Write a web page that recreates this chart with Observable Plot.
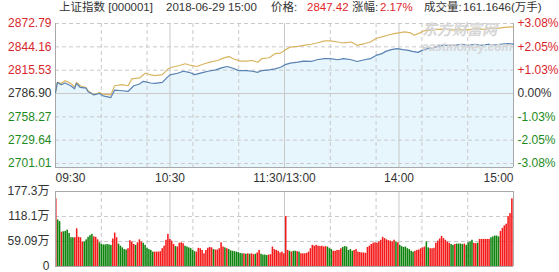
<!DOCTYPE html>
<html><head><meta charset="utf-8">
<script src="https://cdn.jsdelivr.net/npm/d3@7"></script>
<script src="https://cdn.jsdelivr.net/npm/@observablehq/plot@0.6"></script>
<style>
body{margin:0;background:#fff;}
#wrap{position:relative;width:559px;height:272px;overflow:hidden;font-family:"Liberation Sans",Arial,"Noto Sans CJK SC",sans-serif;}
#wrap svg{position:absolute;left:0;top:0;}
.t{position:absolute;top:0;font-size:11.5px;line-height:14px;color:#333;white-space:nowrap;}
.r{color:#e0262b;}
.wm{position:absolute;color:#d6d6d6;font-weight:bold;font-style:italic;white-space:nowrap;line-height:1;}
</style></head><body><div id="wrap"></div>
<script>
// ---- data ----
const prevClose = 2786.90;
const priceTicks = [2701.01, 2729.64, 2758.27, 2786.90, 2815.53, 2844.16, 2872.79];
const pctLabels = ["-3.08%", "-2.05%", "-1.03%", "0.00%", "+1.03%", "+2.05%", "+3.08%"];
const timeTicks = [0, 60, 120, 180, 240];
const timeLabels = ["09:30", "10:30", "11:30/13:00", "14:00", "15:00"];
const volTicks = [0, 59.09, 118.1, 177.3];
const volLabels = ["0", "59.09万", "118.1万", "177.3万"];

const blueMin = [0,1,3,5,8,10,11,13,16,17,20,23,25,29,31,35,38,41,44,46,50,52,56,58,60,64,67,70,73,77,80,84,87,90,93,96,100,103,106,108,112,115,118,120,123,127,130,134,137,141,144,148,151,155,158,162,165,168,171,173,176,179,182,185,187,190,192,195,199,202,206,209,213,216,220,223,227,230,233,237,240];
const blueVal = [2788.1,2800.5,2797.7,2799.8,2796.4,2792.7,2799.3,2794.3,2793.6,2789.4,2785.3,2786.9,2784.0,2781.9,2791.1,2790.3,2789.4,2796.4,2798.6,2801.8,2799.8,2799.3,2800.5,2805.5,2809.7,2811.7,2814.2,2812.9,2810.1,2812.6,2814.2,2815.9,2818.4,2820.0,2817.9,2815.0,2815.0,2814.2,2812.9,2815.0,2815.9,2817.2,2819.1,2822.0,2824.1,2825.3,2826.6,2826.2,2828.3,2829.6,2829.6,2828.3,2829.6,2828.3,2826.2,2828.3,2829.6,2833.6,2835.8,2838.6,2840.7,2842.0,2840.7,2839.8,2838.6,2837.4,2839.8,2842.0,2843.9,2846.0,2846.0,2846.0,2847.3,2846.0,2847.3,2846.0,2847.3,2846.4,2847.3,2848.2,2847.42];

const avgMin = [0,1,3,5,8,10,11,13,16,17,20,23,25,29,31,35,38,40,44,47,50,52,56,59,61,65,68,71,74,78,81,85,88,91,93,97,100,103,106,108,112,115,118,120,123,127,130,134,137,141,144,148,151,155,158,162,165,168,171,174,178,180,183,186,188,191,193,197,200,204,207,211,214,218,221,225,228,232,235,240];
const avgVal = [2788.1,2800.5,2799.3,2802.6,2799.3,2795.2,2800.5,2796.4,2794.3,2790.2,2785.3,2788.1,2786.2,2785.3,2796.4,2797.7,2796.4,2804.8,2806.0,2811.7,2809.7,2808.8,2810.1,2817.2,2819.1,2821.3,2823.4,2821.3,2820.0,2823.4,2825.3,2827.4,2830.3,2832.4,2829.6,2826.6,2826.6,2827.4,2825.3,2829.6,2830.8,2835.8,2836.5,2839.8,2843.9,2844.8,2846.0,2847.3,2848.9,2851.4,2851.4,2850.1,2848.9,2850.1,2846.0,2848.2,2850.1,2854.4,2856.3,2858.4,2860.6,2861.3,2862.5,2861.3,2858.4,2861.3,2863.8,2864.6,2865.5,2865.9,2864.6,2865.5,2864.6,2865.5,2866.3,2865.5,2866.8,2866.8,2868.0,2868.7];

// volume per minute (万手), 241 bars
const volume = [
160,110,106,81,82,83,86,78,68,68,
68,89,69,68,58,58,63,69,73,76,
70,69,63,56,52,51,51,52,51,50,
65,79,68,53,48,44,40,39,42,61,
58,52,50,56,63,58,55,50,43,40,
38,34,34,34,34,35,42,48,62,76,
64,60,52,47,46,55,56,54,48,46,
44,42,38,35,34,43,42,38,30,38,
43,45,44,40,39,39,42,56,46,44,
42,40,37,36,35,34,33,31,30,30,
29,30,29,30,28,29,32,38,29,27,
27,26,27,28,46,40,38,36,32,34,
30,118,38,36,34,36,36,35,34,30,
30,30,31,34,42,50,48,50,48,47,
48,46,47,46,42,40,36,36,38,38,
42,45,47,46,38,40,36,38,40,34,
33,32,32,31,45,48,52,55,56,55,
58,62,69,66,63,61,60,58,62,58,
56,50,47,45,46,42,40,36,34,36,
38,39,42,44,46,58,44,42,42,43,
55,60,65,71,66,62,58,55,52,50,
52,53,53,53,52,53,50,56,58,62,
55,54,55,64,64,64,64,64,64,68,
70,72,72,70,83,90,96,100,118,125,160];
// R = up (red), G = down (green)
const volDir = [
"RGGRGGGGGG","RRRRRGGGGG","RRRGGGGGGG","RRRGGGGGRR","RRGRRRGGGG",
"GGRRRRRRRR","RRRGRRRRGG","GGGGRRRRRR","RRRGRRRRRG","RGGGGGGGGR",
"GRGRRGRRGG","GGRRRRRRRR","RRRGRGGRGR","RRRRRRRRRR","RRRGGGRRRR",
"RGGGGGGRRR","RRRRRRRRRR","RRRRRRRRRG","RGGGGGGGGR","RRRRRGGRRR",
"RRRRRRRRGG","RGGGGRGGGG","RRGRRRRRRG","GGGGRRRRRRR"];

// ---- build ----
const FONT = '"Liberation Sans", Arial, "Noto Sans CJK SC", sans-serif';
const RED = "#d8262b", GREEN = "#1d8a1d", DARK = "#333";
const GRID = "#c9c9c9", FRAME = "#a8a8a8";
const yTop = 2872.79, yLow = 2701.01;
const yMin = yLow - (yTop - yLow) * 4 / 140;
const dashMinutes = d3.range(24, 240, 24);

const blue = blueMin.map((m, i) => ({m, v: blueVal[i]}));
const avg = avgMin.map((m, i) => ({m, v: avgVal[i]}));
const dirs = volDir.join("").split("");
const bars = volume.map((v, i) => ({m: i, v, up: dirs[i] === "R"}));
const tickColor = v => v > prevClose + 0.001 ? RED : (v < prevClose - 0.001 ? GREEN : DARK);

const topPlot = Plot.plot({
  width: 559, height: 272,
  marginLeft: 55, marginRight: 46, marginTop: 23, marginBottom: 105,
  style: {background: "transparent", fontFamily: FONT, fontSize: "12px", overflow: "visible"},
  x: {domain: [0, 240], axis: null},
  y: {domain: [yMin, yTop], axis: null},
  marks: [
    Plot.areaY(blue, {x: "m", y1: yMin, y2: "v", fill: "#e7f5fd"}),
    Plot.ruleY(priceTicks.filter(d => d !== prevClose), {stroke: GRID, strokeDasharray: "4,3"}),
    Plot.ruleY([prevClose], {stroke: GRID}),
    Plot.ruleX(dashMinutes, {stroke: GRID, strokeDasharray: "4,3"}),
    Plot.ruleX([60, 120, 180], {stroke: GRID}),
    Plot.ruleX([0, 240], {stroke: FRAME}),
    Plot.ruleY([yMin], {stroke: FRAME}),
    Plot.line(avg, {x: "m", y: "v", stroke: "#d8b561", strokeWidth: 1.2}),
    Plot.line(blue, {x: "m", y: "v", stroke: "#5a82b2", strokeWidth: 1.2}),
    Plot.text(priceTicks, {x: 0, y: d => d, text: d => d.toFixed(2), fill: tickColor, textAnchor: "end", dx: -4, fontSize: 12}),
    Plot.text(priceTicks, {x: 240, y: d => d, text: (d, i) => pctLabels[i], fill: tickColor, textAnchor: "start", dx: 4, fontSize: 12}),
    Plot.text([0], {x: d => d, y: yMin, text: [timeLabels[0]], textAnchor: "start", dy: 11, fill: DARK, fontSize: 12}),
    Plot.text([60, 120, 180], {x: d => d, y: yMin, text: timeLabels.slice(1, 4), textAnchor: "middle", dy: 11, fill: DARK, fontSize: 12}),
    Plot.text([240], {x: d => d, y: yMin, text: [timeLabels[4]], textAnchor: "end", dy: 11, fill: DARK, fontSize: 12})
  ]
});

const botPlot = Plot.plot({
  width: 559, height: 272,
  marginLeft: 55, marginRight: 46, marginTop: 191, marginBottom: 6,
  style: {background: "transparent", fontFamily: FONT, fontSize: "12px", overflow: "visible"},
  x: {domain: [0, 241], axis: null},
  y: {domain: [0, 177.3], axis: null},
  marks: [
    Plot.ruleY([59.09, 118.1], {stroke: GRID, strokeDasharray: "4,3"}),
    Plot.ruleX(dashMinutes.map(d => d * 241 / 240), {stroke: GRID, strokeDasharray: "4,3"}),
    Plot.ruleX([60, 120, 180].map(d => d * 241 / 240), {stroke: GRID}),
    Plot.rectY(bars, {x1: "m", x2: d => d.m + 1, y1: 0, y2: "v", fill: d => d.up ? "#f41a1a" : "#0e840e", insetRight: 0.35}),
    Plot.ruleX([0, 241], {stroke: FRAME}),
    Plot.ruleY([0, 177.3], {stroke: FRAME}),
    Plot.text(volTicks, {x: 0, y: d => d, text: (d, i) => volLabels[i], fill: DARK, textAnchor: "end", dx: -6, fontSize: 12})
  ]
});

const wrap = document.getElementById("wrap");
wrap.appendChild(topPlot);
wrap.appendChild(botPlot);

// title row
const title = [
  {x: 59, t: "上证指数 [000001]", c: ""},
  {x: 166, t: "2018-06-29 15:00", c: ""},
  {x: 271, t: "价格:", c: ""},
  {x: 307, t: "2847.42", c: "r"},
  {x: 352, t: "涨幅:", c: ""},
  {x: 380, t: "2.17%", c: "r"},
  {x: 424, t: "成交量:", c: ""},
  {x: 463, t: "161.1646(万手)", c: ""}
];
for (const s of title) {
  const el = document.createElement("div");
  el.className = "t " + s.c;
  el.style.left = s.x + "px";
  el.textContent = s.t;
  wrap.appendChild(el);
}
// watermark
const w1 = document.createElement("div");
w1.className = "wm"; w1.style.left = "422px"; w1.style.top = "22px"; w1.style.fontSize = "15px";
w1.textContent = "东方财富网"; wrap.appendChild(w1);
const w2 = document.createElement("div");
w2.className = "wm"; w2.style.left = "422px"; w2.style.top = "41px"; w2.style.fontSize = "12px";
w2.textContent = "eastmoney.com"; wrap.appendChild(w2);
</script>
</body></html>
